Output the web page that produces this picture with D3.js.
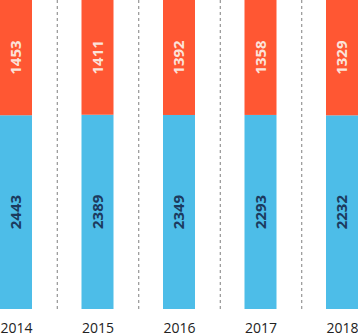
<!DOCTYPE html>
<html>
<head>
<meta charset="utf-8">
<script src="https://cdn.jsdelivr.net/npm/d3@7"></script>
<style>
  body { margin: 0; background: #fff; }
  svg { display: block; }
</style>
</head>
<body>
<svg id="chart"></svg>
<script>
const years = ['2014', '2015', '2016', '2017', '2018'];
const topValues = [1453, 1411, 1392, 1358, 1329];
const bottomValues = [2443, 2389, 2349, 2293, 2232];

const width = 358, height = 336;
const barWidth = 32;
const plotBottom = 309;

const svg = d3.select('#chart')
    .attr('width', width)
    .attr('height', height);

const xscale = d3.scalePoint()
    .domain(years)
    .range([16, 342]);

const yscale = d3.scaleLinear()
    .domain([0, 1])
    .range([plotBottom, 0]);

const data = years.map((y, i) => {
    const total = topValues[i] + bottomValues[i];
    return { year: y, top: topValues[i], bottom: bottomValues[i], share: bottomValues[i] / total };
});

// dashed separators between bars
const step = xscale.step();
svg.append('g')
    .selectAll('line')
    .data(years.slice(0, -1))
    .join('line')
    .attr('x1', d => xscale(d) + step / 2 + 0.5)
    .attr('x2', d => xscale(d) + step / 2 + 0.5)
    .attr('y1', 0)
    .attr('y2', plotBottom)
    .attr('stroke', '#7f7f7f')
    .attr('stroke-width', 1)
    .attr('stroke-dasharray', '3,3');

// bottom (blue) segments
svg.append('g')
    .selectAll('rect')
    .data(data)
    .join('rect')
    .attr('x', d => xscale(d.year) - barWidth / 2)
    .attr('width', barWidth)
    .attr('y', d => yscale(d.share))
    .attr('height', d => plotBottom - yscale(d.share))
    .attr('fill', '#4dbde8');

// top (orange) segments
svg.append('g')
    .selectAll('rect')
    .data(data)
    .join('rect')
    .attr('x', d => xscale(d.year) - barWidth / 2)
    .attr('width', barWidth)
    .attr('y', yscale(1))
    .attr('height', d => yscale(d.share) - yscale(1))
    .attr('fill', '#ff5733');

// value labels, rotated
const labels = svg.append('g')
    .style('font-family', '"Open Sans", sans-serif')
    .style('font-size', '15px')
    .style('font-weight', 'bold');

labels.selectAll('text.top')
    .data(data)
    .join('text')
    .attr('class', 'top')
    .attr('transform', d => `translate(${xscale(d.year)}, ${(yscale(1) + yscale(d.share)) / 2}) rotate(-90)`)
    .attr('text-anchor', 'middle')
    .attr('dy', '0.35em')
    .attr('fill', '#fbe3da')
    .text(d => d.top);

labels.selectAll('text.bottom')
    .data(data)
    .join('text')
    .attr('class', 'bottom')
    .attr('transform', d => `translate(${xscale(d.year)}, ${(yscale(d.share) + plotBottom) / 2}) rotate(-90)`)
    .attr('text-anchor', 'middle')
    .attr('dy', '0.35em')
    .attr('fill', '#1c3a5e')
    .text(d => d.bottom);

// x axis labels
const xaxis = d3.axisBottom(xscale).tickSize(0).tickPadding(0);
const xaxis_group = svg.append('g')
    .attr('transform', `translate(0, ${plotBottom})`)
    .call(xaxis);
xaxis_group.select('.domain').remove();
xaxis_group.selectAll('text')
    .attr('dy', null)
    .attr('y', 24)
    .style('font-family', '"Open Sans", sans-serif')
    .style('font-size', '14px')
    .attr('fill', '#222');
</script>
</body>
</html>
